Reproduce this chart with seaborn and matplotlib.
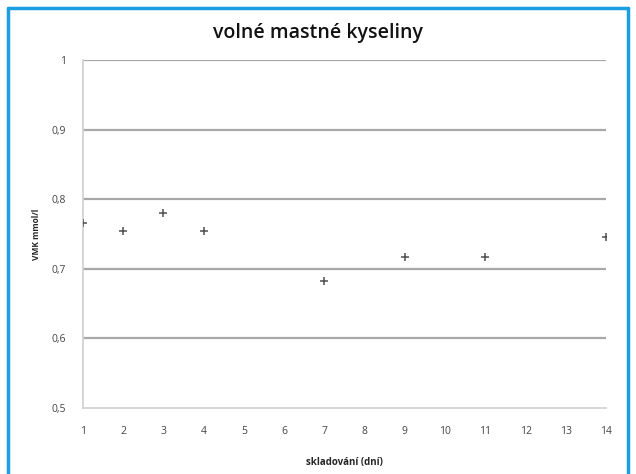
import matplotlib
matplotlib.use("Agg")
import matplotlib.pyplot as plt
import seaborn as sns
import pandas as pd
from matplotlib.lines import Line2D

days = [1, 2, 3, 4, 7, 9, 11, 14]
vmk = [0.766, 0.754, 0.780, 0.754, 0.683, 0.717, 0.717, 0.745]
x_ticks = list(range(1, 15))
y_ticks = [0.5, 0.6, 0.7, 0.8, 0.9, 1.0]
y_tick_labels = ["0,5", "0,6", "0,7", "0,8", "0,9", "1"]

df = pd.DataFrame({"day": days, "vmk": vmk})

sns.set_style("white")
plt.rcParams['font.family'] = ['Open Sans', 'DejaVu Sans']

fig = plt.figure(figsize=(6.36, 4.74), dpi=100)
ax = fig.add_axes([83/636, 66/474, (606-83)/636, (408-60)/474])

for y in y_ticks[1:]:
    ax.axhline(y, color="#a8a8a8", lw=1.6, zorder=0)

sns.scatterplot(data=df, x="day", y="vmk", marker="+", s=40, color="#505050",
                linewidth=1.1, ax=ax, zorder=3)

ax.set_xlim(1, 14)
ax.set_ylim(0.5, 1.0)
ax.set_xticks(x_ticks)
ax.set_xticklabels([str(t) for t in x_ticks], fontsize=7.5, color="#444444")
ax.set_yticks(y_ticks)
ax.set_yticklabels(y_tick_labels, fontsize=7.5, color="#444444")
ax.tick_params(axis="both", length=3, color="#c0c0c0", pad=9, direction="out")
ax.tick_params(axis="x", pad=10)

for side in ["top", "right"]:
    ax.spines[side].set_visible(False)
ax.spines["left"].set_color("#d0d0d0")
ax.spines["left"].set_linewidth(1.2)
ax.spines["bottom"].set_color("#d0d0d0")
ax.spines["bottom"].set_linewidth(1.2)

ax.set_xlabel("skladování (dní)", fontsize=7, fontweight="bold", labelpad=14)
ax.set_ylabel("VMK mmol/l", fontsize=6, fontweight="bold", labelpad=8)

fig.text(318/636, 1 - 33/474, "volné mastné kyseliny", ha="center", va="center",
         fontsize=14, fontweight="semibold", color="#111111")

# blue frame
blue = "#1aa0e0"
fig.add_artist(Line2D([8/636, 8/636], [0, 1 - 8/474], transform=fig.transFigure, color=blue, lw=2.5))
fig.add_artist(Line2D([8/636, 628/636], [1 - 8/474, 1 - 8/474], transform=fig.transFigure, color=blue, lw=2.5))
fig.add_artist(Line2D([628/636, 628/636], [0, 1 - 8/474], transform=fig.transFigure, color=blue, lw=2.5))

fig.savefig("out.png", dpi=100)
